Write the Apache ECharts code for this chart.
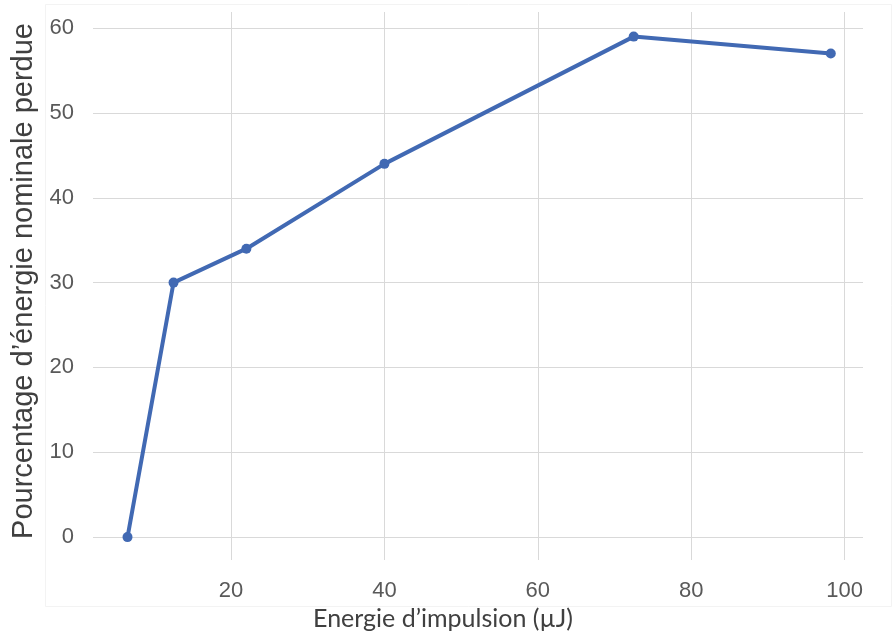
<!DOCTYPE html>
<html>
<head>
<meta charset="utf-8">
<script src="https://cdn.jsdelivr.net/npm/echarts@6/dist/echarts.min.js"></script>
<style>html,body{margin:0;padding:0;background:#fff;}#c{width:896px;height:637px;}</style>
</head>
<body>
<div id="c"></div>
<script>
const energy = [6.5, 12.5, 22, 40, 72.5, 98.2];
const lossPct = [0, 30, 34, 44, 59, 57];
const xTicks = [20, 40, 60, 80, 100];
const yTicks = [0, 10, 20, 30, 40, 50, 60];
const xTitle = 'Energie d\u2019impulsion (\u00b5J)';
const yTitle = 'Pourcentage d\u2019\u00e9nergie nominale perdue';

const chart = echarts.init(document.getElementById('c'), null, {renderer: 'canvas'});
const gridColor = '#d9d9d9';
chart.setOption({
  animation: false,
  backgroundColor: '#fff',
  graphic: [{
    type: 'rect', shape: {x: 45.5, y: 4.5, width: 846, height: 602},
    style: {fill: 'none', stroke: '#f3f3f3', lineWidth: 1}, silent: true, z: -10
  }],
  grid: {left: 93, right: 33, top: 12, bottom: 77, containLabel: false},
  xAxis: {
    type: 'value', min: 2.0, max: 102.4,
    name: xTitle, nameLocation: 'middle', nameGap: 39,
    nameTextStyle: {fontFamily: 'Lato', fontSize: 25, color: '#404040', padding: [0, 70, 0, 0]},
    axisLine: {show: false}, axisTick: {show: false},
    axisLabel: {
      fontFamily: 'Liberation Sans', fontSize: 22, color: '#595959', margin: 20,
      showMinLabel: false, showMaxLabel: false,
      formatter: v => xTicks.includes(v) ? String(v) : ''
    },
    splitLine: {show: true, showMinLine: false, showMaxLine: false, lineStyle: {color: gridColor, width: 1}}
  },
  yAxis: {
    type: 'value', min: -2.7, max: 61.9,
    name: yTitle, nameLocation: 'middle', nameGap: 55, nameRotate: 90,
    nameTextStyle: {fontFamily: 'Liberation Sans', fontSize: 29, color: '#404040', padding: [0, 0, 0, 10]},
    axisLine: {show: false}, axisTick: {show: false},
    axisLabel: {
      fontFamily: 'Liberation Sans', fontSize: 22, color: '#595959', margin: 19,
      showMinLabel: false, showMaxLabel: false,
      formatter: v => yTicks.includes(v) ? String(v) : ''
    },
    splitLine: {show: true, showMinLine: false, showMaxLine: false, lineStyle: {color: gridColor, width: 1}}
  },
  series: [{
    type: 'line',
    data: energy.map((x, i) => [x, lossPct[i]]),
    symbol: 'circle', symbolSize: 10,
    lineStyle: {color: '#4169B3', width: 4},
    itemStyle: {color: '#4169B3'},
    clip: false
  }]
});
</script>
</body>
</html>
